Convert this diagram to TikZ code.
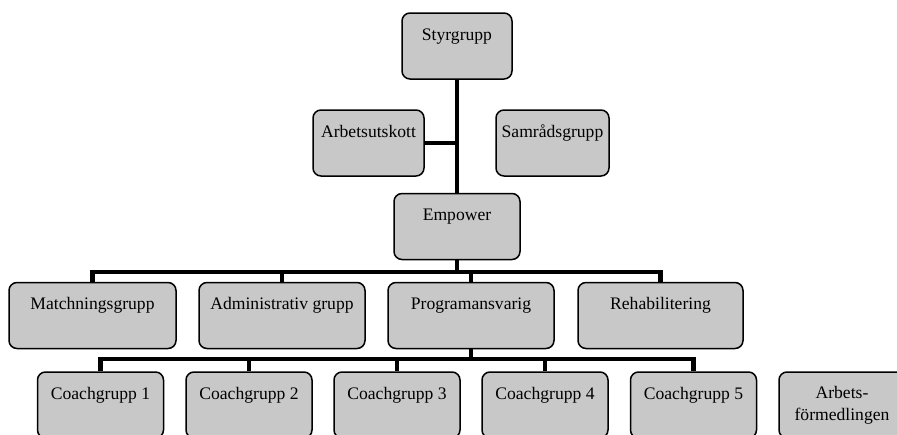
\documentclass[tikz,border=0pt]{standalone}
\usepackage{fontspec}
\setmainfont{Liberation Serif}
\definecolor{boxgray}{HTML}{C8C8C8}
\begin{document}
\begin{tikzpicture}[x=1pt,y=-1pt,
  orgbox/.style={draw=black, line width=1.5pt, rounded corners=8pt, fill=boxgray,
    inner sep=0pt, minimum height=66pt, text height=13pt, text depth=25pt,
    font=\fontsize{17.6}{20.5}\selectfont},
  plainbox/.style={draw=black, line width=1.5pt, rounded corners=8pt, fill=boxgray,
    inner sep=0pt, minimum height=66pt, align=center,
    font=\fontsize{17.6}{22}\selectfont},
  conn/.style={line width=4.2pt, line join=miter}]
\useasboundingbox (0,0) rectangle (897,434);
\clip (0,0) rectangle (897,434);
% top
\node[orgbox, minimum width=110pt] (sty) at (457,46) {Styrgrupp};
\node[orgbox, minimum width=111pt] (arb) at (368.5,143) {Arbetsutskott};
\node[orgbox, minimum width=113pt] (sam) at (552.5,143) {Samrådsgrupp};
\node[orgbox, minimum width=126pt] (emp) at (457,226.5) {Empower};
% row 2
\node[orgbox, minimum width=167pt] (mat) at (92.5,315.5) {Matchningsgrupp};
\node[orgbox, minimum width=166pt] (adm) at (282,315.5) {Administrativ grupp};
\node[orgbox, minimum width=166pt] (pro) at (471,315.5) {Programansvarig};
\node[orgbox, minimum width=165pt] (reh) at (660.5,315.5) {Rehabilitering};
% row 3
\node[orgbox, minimum width=126pt] (c1) at (100.5,405) {Coachgrupp 1};
\node[orgbox, minimum width=126pt] (c2) at (249,405) {Coachgrupp 2};
\node[orgbox, minimum width=126pt] (c3) at (397,405) {Coachgrupp 3};
\node[orgbox, minimum width=126pt] (c4) at (545,405) {Coachgrupp 4};
\node[orgbox, minimum width=126pt] (c5) at (693.5,405) {Coachgrupp 5};
\node[plainbox, minimum width=126pt] (af) at (842,405) {Arbets-\\förmedlingen};
% connectors
\coordinate (bus1) at (0,272);
\coordinate (bus2) at (0,359);
\draw[conn] (sty.south) -- (emp.north);
\draw[conn] (arb.east) -- (arb.east -| sty.south);
\draw[conn] (emp.south) -- (emp.south |- bus1);
\draw[conn] (mat.north) -- (mat.north |- bus1) -- (reh.north |- bus1) -- (reh.north);
\draw[conn] (adm.north) -- (adm.north |- bus1);
\draw[conn] (pro.north) -- (pro.north |- bus1);
\draw[conn] (pro.south) -- (pro.south |- bus2);
\draw[conn] (c1.north) -- (c1.north |- bus2) -- (c5.north |- bus2) -- (c5.north);
\draw[conn] (c2.north) -- (c2.north |- bus2);
\draw[conn] (c3.north) -- (c3.north |- bus2);
\draw[conn] (c4.north) -- (c4.north |- bus2);
\end{tikzpicture}
\end{document}
